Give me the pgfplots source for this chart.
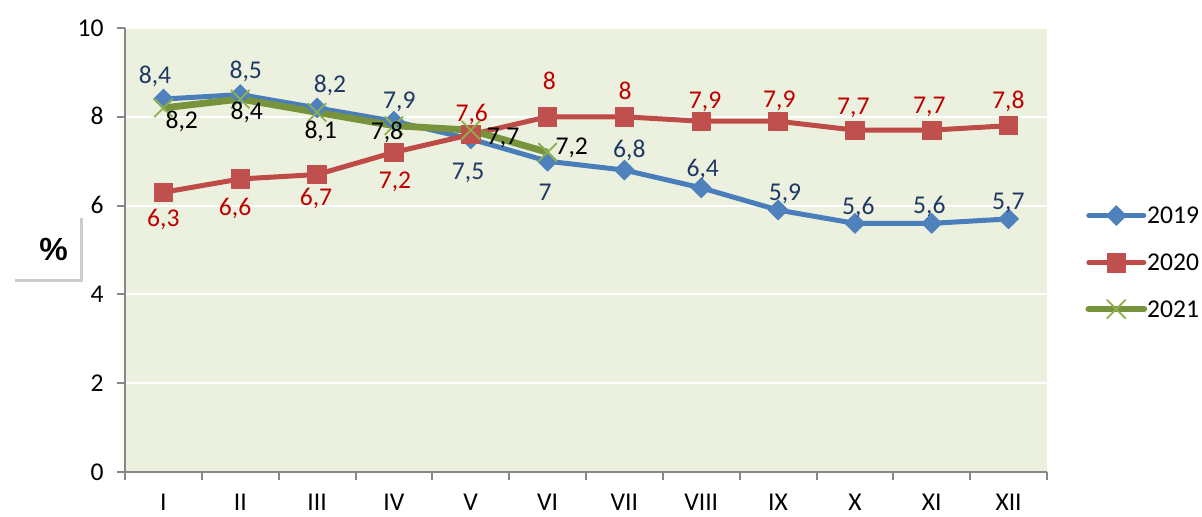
\documentclass[border=0pt]{standalone}
\usepackage{fontspec}
\setmainfont{Carlito}
\newfontfamily\arialfont{Liberation Sans}
\usepackage{pgfplots}
\pgfplotsset{compat=1.18}
\definecolor{bg}{HTML}{EBF1DE}
\definecolor{axgray}{HTML}{868686}
\definecolor{c19}{HTML}{4F81BD}
\definecolor{c19line}{HTML}{4A7EBB}
\definecolor{c19lab}{HTML}{1F3864}
\definecolor{c20}{HTML}{C0504D}
\definecolor{c20line}{HTML}{BE4B48}
\definecolor{c20lab}{HTML}{C00000}
\definecolor{c21line}{HTML}{77933C}
\definecolor{c21mark}{HTML}{8DB04C}
\newcommand{\lbl}{\fontsize{12.8}{15}\selectfont}

\pgfplotstableread{
x y dx dy
0 8.4 -4.2 12
1 8.5 2.75 12
2 8.2 6.45 12
3 7.9 2.7 10.6
4 7.5 -1.35 -16.35
5 7.0 -1.3 -15.55
6 6.8 2.45 10.55
7 6.4 0.75 9.75
8 5.9 3.45 8.65
9 5.6 1.7 8.35
10 5.6 -1.2 9.2
11 5.7 -0.15 8.95
}\tabA

\pgfplotstableread{
x y dx dy
0 6.3 0 -13
1 6.6 -2.6 -14
2 6.7 -0.55 -11.25
3 7.2 0.55 -14.2
4 7.6 0.5 10.65
5 8.0 0.85 17.9
6 8.0 0.3 12.9
7 7.9 1.9 10.6
8 7.9 0.6 10.95
9 7.7 -0.8 11.7
10 7.7 -1.2 12.55
11 7.8 -0.15 12.85
}\tabB

\pgfplotstableread{
x y dx dy
0 8.2 9.15 -6.05
1 8.4 3.25 -6.35
2 8.1 1.8 -8.8
3 7.8 -3.45 -3
4 7.7 16.15 -3.3
5 7.2 12.05 2.8
}\tabC

\begin{document}
\begin{tikzpicture}
\path[use as bounding box] (0,0) rectangle (601pt,258pt);
\begin{axis}[
  at={(62.5pt,22pt)}, anchor=south west,
  scale only axis, width=461pt, height=222pt,
  xmin=-0.5, xmax=11.5, ymin=0, ymax=10,
  axis x line*=bottom, axis y line*=left,
  axis line style={draw=axgray, line width=1pt},
  tick align=outside, major tick length=4pt,
  tick style={draw=axgray, line width=1pt},
  ytick={0,2,...,10},
  xtick={-0.5,0.5,...,11.5}, xticklabels={},
  extra x ticks={0,...,11},
  extra x tick labels={I,II,III,IV,V,VI,VII,VIII,IX,X,XI,XII},
  extra x tick style={major tick length=0pt},
  ymajorgrids, grid style={white, line width=1pt},
  axis background/.style={fill=bg},
  tick label style={font=\lbl, inner sep=0pt, text height=8.1pt, text depth=0pt},
  xticklabel style={yshift=-11pt},
  yticklabel style={xshift=-6.5pt},
  /pgf/number format/assume math mode=true,
  /pgf/number format/.cd, use comma, fixed, precision=1, /pgfplots/.cd,
  every node near coord/.append style={font=\lbl, anchor=center, inner sep=0pt, text height=8.1pt, text depth=0pt},
  legend style={at={(1,0.473)}, anchor=west, xshift=19pt, draw=none, fill=none,
    font=\lbl, row sep=14pt, column sep=0pt, inner sep=0pt,
    nodes={inner sep=0pt, text height=8.1pt, text depth=0pt}},
  legend cell align=left,
  legend image code/.code={\draw[#1, line cap=round, mark repeat=2, mark phase=2] plot coordinates {(0pt,0pt) (13.75pt,0pt) (27.5pt,0pt)};},
]
\addplot[forget plot, c19line, line width=2.5pt, line join=round,
  mark=square*, mark size=3.5pt, mark options={rotate=45, fill=c19, draw=c19, line width=0.4pt},
  visualization depends on={\thisrow{dx}\as\dx},
  visualization depends on={\thisrow{dy}\as\dy},
  nodes near coords,
  every node near coord/.append style={text=c19lab, xshift=\dx pt, yshift=\dy pt}]
  table[x=x, y=y] {\tabA};
\addplot[forget plot, c20line, line width=2.5pt, line join=round,
  mark=square*, mark size=4.6pt, mark options={fill=c20, draw=c20, line width=0.4pt},
  visualization depends on={\thisrow{dx}\as\dx},
  visualization depends on={\thisrow{dy}\as\dy},
  nodes near coords,
  every node near coord/.append style={text=c20lab, xshift=\dx pt, yshift=\dy pt}]
  table[x=x, y=y] {\tabB};
\addplot[forget plot, c21line, line width=3.4pt, line join=round,
  mark=x, mark size=6.5pt, mark options={draw=c21mark, line width=0.9pt},
  visualization depends on={\thisrow{dx}\as\dx},
  visualization depends on={\thisrow{dy}\as\dy},
  nodes near coords,
  every node near coord/.append style={text=black, xshift=\dx pt, yshift=\dy pt}]
  table[x=x, y=y] {\tabC};
\addlegendimage{c19line, line width=2.5pt, mark=square*, mark size=3.5pt, mark options={rotate=45, fill=c19, draw=c19, line width=0.4pt}}
\addlegendentry{2019}
\addlegendimage{c20line, line width=2.5pt, mark=square*, mark size=4.6pt, mark options={fill=c20, draw=c20, line width=0.4pt}}
\addlegendentry{2020}
\addlegendimage{c21line, line width=3.4pt, mark=x, mark size=6.5pt, mark options={draw=c21mark, line width=0.9pt}}
\addlegendentry{2021}
\end{axis}
\draw[gray!40, line width=1.5pt] (7.5pt,118pt) -- (40.75pt,118pt) -- (40.75pt,149pt);
\node[font=\fontsize{16}{18}\selectfont\arialfont\bfseries] at (26.75pt,133.5pt) {\%};
\end{tikzpicture}
\end{document}
